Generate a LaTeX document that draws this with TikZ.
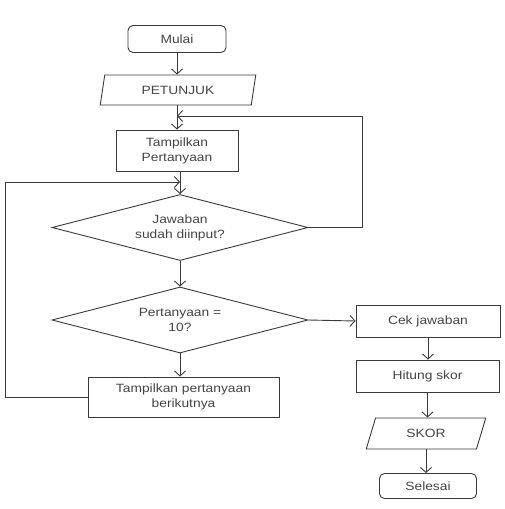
\documentclass[tikz,border=0pt]{standalone}
\usepackage{fontspec}
\setmainfont{Liberation Sans}[FakeStretch=1.15]
\usetikzlibrary{shapes.geometric,arrows.meta}
\definecolor{ln}{HTML}{3A3A3A}
\definecolor{tx}{HTML}{444444}
\begin{document}
\begin{tikzpicture}[x=1pt,y=-1pt,
  every node/.style={font=\fontsize{12}{15}\selectfont, text=tx, draw=ln, line width=0.9pt, inner sep=0pt, align=center},
  terminal/.style={rounded corners=5pt, minimum width=98pt, minimum height=27pt},
  procbox/.style={rectangle, minimum height=41pt},
  dec/.style={diamond, shape aspect=3.9, minimum width=256pt, minimum height=66pt},
  io/.style={trapezium, trapezium stretches=true},
  conn/.style={draw=ln, line width=0.9pt, -{Straight Barb[length=5pt,width=11pt]}},
  plain/.style={draw=ln, line width=0.9pt}]
\useasboundingbox (0,0) rectangle (504,509);

\node[terminal] (mulai) at (177,39) {Mulai};
\node[io, trapezium left angle=75, trapezium right angle=105, minimum width=156pt, minimum height=30pt] (petunjuk) at (178,90) {PETUNJUK};
\node[procbox, minimum width=122pt] (tampil1) at (177,150.5) {Tampilkan\\Pertanyaan};
\node[dec] (d1) at (180,227.5) {Jawaban\\sudah diinput?};
\node[dec] (d2) at (180,320) {Pertanyaan =\\10?};
\node[procbox, minimum width=191pt, minimum height=40pt] (tampil2) at (183.5,397) {Tampilkan pertanyaan\\berikutnya};
\node[procbox, minimum width=144pt, minimum height=32pt] (cek) at (428,321) {Cek jawaban};
\node[procbox, minimum width=143pt, minimum height=32pt] (hitung) at (427.5,376) {Hitung skor};
\node[io, trapezium left angle=67, trapezium right angle=113, minimum width=120pt, minimum height=31pt] (skor) at (426,433.5) {SKOR};
\node[terminal, minimum width=97pt, minimum height=25pt] (selesai) at (428,486) {Selesai};

\coordinate (j1) at (177,116);
\coordinate (r1) at (362,227.5);
\coordinate (r2) at (362,116);
\coordinate (j2) at (180,182);
\coordinate (l1) at (5,397);
\coordinate (l2) at (5,182);

\draw[conn] (mulai.south) -- (mulai.south |- petunjuk.north);
\draw[conn] (petunjuk.south -| tampil1.north) -- (tampil1.north);
\draw[conn] (tampil1.south -| d1.north) -- (d1.north);
\draw[plain] (d1.east) -- (r1) -- (r2);
\draw[conn] (r2) -- (j1);
\draw[conn] (d1.south) -- (d2.north);
\draw[conn] (d2.east) -- (cek.west);
\draw[conn] (d2.south) -- (d2.south |- tampil2.north);
\draw[plain] (tampil2.west |- l1) -- (l1) -- (l2);
\draw[conn] (l2) -- (j2);
\draw[conn] (cek.south) -- (cek.south |- hitung.north);
\draw[conn] (hitung.south) -- (hitung.south |- skor.north);
\draw[conn] (skor.south) -- (skor.south |- selesai.north);
\end{tikzpicture}
\end{document}
